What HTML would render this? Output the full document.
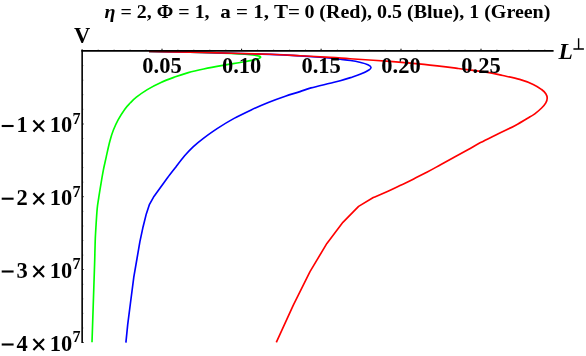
<!DOCTYPE html>
<html><head><meta charset="utf-8">
<style>
html,body{margin:0;padding:0;background:#fff;}
body{width:586px;height:356px;overflow:hidden;}
svg{display:block;will-change:transform;}
text{font-family:"Liberation Serif",serif;font-weight:bold;fill:#000;}
</style></head><body>
<svg width="586" height="356" viewBox="0 0 586 356">
<rect width="586" height="356" fill="#fff"/>
<g fill="none" stroke-width="1.65" stroke-linejoin="round" stroke-linecap="butt">
<path stroke="#00ff00" d="M149.0,51.5 C155.8,51.6 176.3,51.8 190.0,52.1 C203.7,52.4 221.8,53.0 231.0,53.4 C240.2,53.8 240.7,53.9 245.0,54.3 C249.3,54.7 254.3,55.1 256.9,55.6 C259.5,56.1 260.8,56.6 260.6,57.3 C260.4,58.0 258.2,58.9 255.5,59.6 C252.8,60.3 250.0,60.7 244.6,61.7 C239.2,62.7 229.6,64.2 222.8,65.4 C216.0,66.6 209.4,67.8 203.7,69.0 C197.9,70.2 193.2,71.2 188.3,72.6 C183.5,73.9 179.2,75.4 174.6,77.1 C170.0,78.8 165.6,80.4 161.0,82.5 C156.4,84.6 151.4,87.1 147.3,89.6 C143.2,92.0 139.2,95.0 136.4,97.2 C133.6,99.4 132.3,100.8 130.4,102.8 C128.5,104.8 127.0,106.1 125.0,108.9 C123.0,111.7 120.0,116.3 118.1,119.8 C116.2,123.3 114.8,126.5 113.4,130.0 C112.0,133.5 111.1,136.6 109.9,141.0 C108.7,145.4 107.4,151.6 106.3,156.6 C105.2,161.6 104.1,166.1 103.2,170.8 C102.3,175.5 101.5,180.4 100.8,184.9 C100.0,189.4 99.3,194.1 98.7,198.0 C98.1,201.9 97.6,204.2 97.2,208.6 C96.8,213.0 96.4,219.3 96.1,224.3 C95.8,229.3 95.5,233.9 95.3,238.5 C95.1,243.1 95.1,246.8 94.9,252.0 C94.8,257.2 94.9,254.9 94.4,270.0 C93.9,285.1 92.4,330.2 92.0,342.3"/>
<path stroke="#0000ff" d="M149.0,51.5 C155.8,51.6 176.3,51.8 190.0,52.1 C203.7,52.4 217.7,52.8 231.0,53.2 C244.3,53.6 258.5,54.0 270.0,54.4 C281.5,54.8 291.7,55.4 300.0,55.9 C308.3,56.4 314.8,56.8 320.0,57.2 C325.2,57.6 327.6,57.8 331.0,58.1 C334.4,58.4 336.9,58.8 340.2,59.2 C343.4,59.6 347.1,60.0 350.5,60.5 C353.9,61.0 357.8,61.8 360.7,62.5 C363.6,63.2 366.2,64.0 367.9,64.8 C369.6,65.6 370.8,66.5 371.0,67.4 C371.2,68.3 370.6,68.9 368.9,70.0 C367.2,71.1 363.8,72.8 360.7,74.1 C357.6,75.4 353.9,76.5 350.5,77.6 C347.1,78.7 343.6,79.8 340.2,80.7 C336.8,81.7 334.9,82.1 330.0,83.3 C325.1,84.5 316.0,86.5 311.0,87.9 C306.0,89.3 304.3,90.2 300.0,91.6 C295.7,93.0 290.6,94.4 285.3,96.2 C280.0,98.0 274.0,100.2 268.3,102.5 C262.6,104.8 256.9,107.2 251.2,109.9 C245.5,112.6 239.8,115.3 234.1,118.4 C228.4,121.5 222.2,125.3 217.1,128.6 C212.0,131.9 207.4,135.3 203.4,138.3 C199.4,141.3 196.2,143.9 193.1,146.8 C190.0,149.7 187.4,152.5 184.6,155.8 C181.8,159.1 178.9,163.0 176.1,166.7 C173.2,170.4 170.3,174.0 167.5,177.8 C164.7,181.6 161.3,186.3 159.0,189.5 C156.7,192.7 154.6,195.6 153.7,196.8  L149.5,204.3 L146.3,213.9 L143.1,226.7 L139.9,241.6 L137.1,258.0 L133.8,277.1 L130.4,303.5 L127.7,324.7 L125.9,342.6"/>
<path stroke="#ff0000" d="M149.0,51.5 C155.8,51.6 176.3,51.8 190.0,52.1 C203.7,52.4 217.7,52.8 231.0,53.2 C244.3,53.6 258.5,53.9 270.0,54.3 C281.5,54.7 290.0,55.2 300.0,55.7 C310.0,56.2 321.7,56.9 330.0,57.4 C338.3,57.9 340.0,58.1 350.0,58.8 C360.0,59.5 377.6,60.5 390.0,61.4 C402.4,62.3 412.7,63.2 424.1,64.4 C435.5,65.6 448.0,67.2 458.3,68.5 C468.6,69.8 478.6,70.9 486.0,72.1 C493.4,73.3 497.2,74.3 502.8,75.5 C508.4,76.7 514.6,77.9 519.7,79.4 C524.8,80.9 529.6,82.7 533.2,84.4 C536.9,86.1 539.5,88.0 541.6,89.5 C543.7,91.0 544.9,92.3 545.8,93.7 C546.7,95.1 547.2,96.4 547.2,97.9 C547.2,99.4 546.7,101.2 545.8,102.9 C544.9,104.6 543.4,106.2 541.6,108.0 C539.8,109.8 536.7,112.4 534.8,113.9 C532.9,115.4 533.2,114.9 530.0,116.8 C526.8,118.7 520.6,122.6 515.3,125.4 C510.0,128.2 504.1,130.8 498.3,133.7 C492.5,136.6 485.5,140.0 480.5,142.6 C475.5,145.2 472.6,147.1 468.3,149.5 C464.0,151.9 459.2,154.5 454.6,157.0 C450.1,159.5 445.6,162.0 441.0,164.5 C436.4,167.0 431.9,169.6 427.3,172.0 C422.8,174.4 418.2,176.6 413.7,178.9 C409.1,181.2 404.3,183.6 400.0,185.6 C395.7,187.6 392.4,189.2 388.0,191.2 C383.6,193.2 375.8,196.4 373.3,197.5 L358.6,206.4 L342.9,222.3 L326.9,243.4 L310.0,271.6 L293.2,305.3 L276.3,342.4"/>
</g>
<g stroke="#000" fill="none">
<path stroke-width="1.7" d="M81.4,50.8 H553.6"/>
<path stroke-width="1.6" d="M82.15,49.5 V343"/>
<path stroke-width="1" stroke="#000" d="M162.0,50.6 v-1.9 M241.6,50.6 v-1.9 M321.1,50.6 v-1.9 M401.0,50.6 v-1.9 M481.0,50.6 v-1.9"/>
<path stroke-width="0.8" stroke="#000" stroke-opacity="0.45" d="M98.2,50.6 v-1.3 M114.1,50.6 v-1.3 M130.1,50.6 v-1.3 M146.0,50.6 v-1.3 M177.9,50.6 v-1.3 M193.8,50.6 v-1.3 M209.8,50.6 v-1.3 M225.8,50.6 v-1.3 M257.6,50.6 v-1.3 M273.6,50.6 v-1.3 M289.6,50.6 v-1.3 M305.5,50.6 v-1.3 M337.4,50.6 v-1.3 M353.3,50.6 v-1.3 M369.3,50.6 v-1.3 M385.2,50.6 v-1.3 M417.1,50.6 v-1.3 M433.1,50.6 v-1.3 M449.0,50.6 v-1.3 M465.0,50.6 v-1.3 M496.9,50.6 v-1.3 M512.9,50.6 v-1.3 M528.8,50.6 v-1.3 M544.8,50.6 v-1.3"/>
<path stroke-width="1" stroke="#000" stroke-opacity="0.6" d="M82.4,124.0 h1.6 M82.4,196.7 h1.6 M82.4,269.5 h1.6 M82.4,342.5 h1.6"/>
<path stroke-width="0.8" stroke="#000" stroke-opacity="0.35" d="M82.4,65.6 h1.3 M82.4,80.2 h1.3 M82.4,94.7 h1.3 M82.4,109.3 h1.3 M82.4,138.5 h1.3 M82.4,153.1 h1.3 M82.4,167.6 h1.3 M82.4,182.2 h1.3 M82.4,211.4 h1.3 M82.4,226.0 h1.3 M82.4,240.5 h1.3 M82.4,255.1 h1.3 M82.4,284.3 h1.3 M82.4,298.9 h1.3 M82.4,313.4 h1.3 M82.4,328.0 h1.3"/>
</g>
<text x="104.5" y="17.8" font-size="19" textLength="105.1" lengthAdjust="spacingAndGlyphs" xml:space="preserve"><tspan font-style="italic">η</tspan> = 2, Φ = 1,</text>
<text x="220.3" y="17.8" font-size="19" textLength="79.6" lengthAdjust="spacingAndGlyphs" xml:space="preserve">a = 1, T=</text>
<text x="304.4" y="17.8" font-size="19" textLength="246" lengthAdjust="spacingAndGlyphs" xml:space="preserve">0 (Red), 0.5 (Blue), 1 (Green)</text>
<text x="74.0" y="42.8" font-size="22.5">V</text>
<text x="558.4" y="58.5" font-size="23.5" font-style="italic">L</text>
<path d="M573.4,49 H583.9 M578.6,49 V38.3" stroke="#000" stroke-width="1.4" fill="none"/>
<g font-size="22.5" text-anchor="middle">
<text x="162.0" y="73.3">0.05</text>
<text x="241.6" y="73.3">0.10</text>
<text x="321.1" y="73.3">0.15</text>
<text x="401.0" y="73.3">0.20</text>
<text x="481.0" y="73.3">0.25</text>
</g>
<g font-size="22.5">
<path d="M1.7,126.0 H13.6" stroke="#000" stroke-width="2.1"/>
<text x="16.5" y="132.2">1</text>
<path d="M33.4,120.6 L44.0,131.6 M44.0,120.6 L33.4,131.6" stroke="#000" stroke-width="2.1" fill="none"/>
<text x="49.7" y="132.2">10</text>
<text x="72.4" y="123.8" font-size="16">7</text>
<path d="M1.7,198.7 H13.6" stroke="#000" stroke-width="2.1"/>
<text x="16.5" y="204.9">2</text>
<path d="M33.4,193.3 L44.0,204.3 M44.0,193.3 L33.4,204.3" stroke="#000" stroke-width="2.1" fill="none"/>
<text x="49.7" y="204.9">10</text>
<text x="72.4" y="196.5" font-size="16">7</text>
<path d="M1.7,271.5 H13.6" stroke="#000" stroke-width="2.1"/>
<text x="16.5" y="277.7">3</text>
<path d="M33.4,266.1 L44.0,277.1 M44.0,266.1 L33.4,277.1" stroke="#000" stroke-width="2.1" fill="none"/>
<text x="49.7" y="277.7">10</text>
<text x="72.4" y="269.3" font-size="16">7</text>
<path d="M1.7,344.5 H13.6" stroke="#000" stroke-width="2.1"/>
<text x="16.5" y="350.7">4</text>
<path d="M33.4,339.1 L44.0,350.1 M44.0,339.1 L33.4,350.1" stroke="#000" stroke-width="2.1" fill="none"/>
<text x="49.7" y="350.7">10</text>
<text x="72.4" y="342.3" font-size="16">7</text>
</g>
</svg>
</body></html>
